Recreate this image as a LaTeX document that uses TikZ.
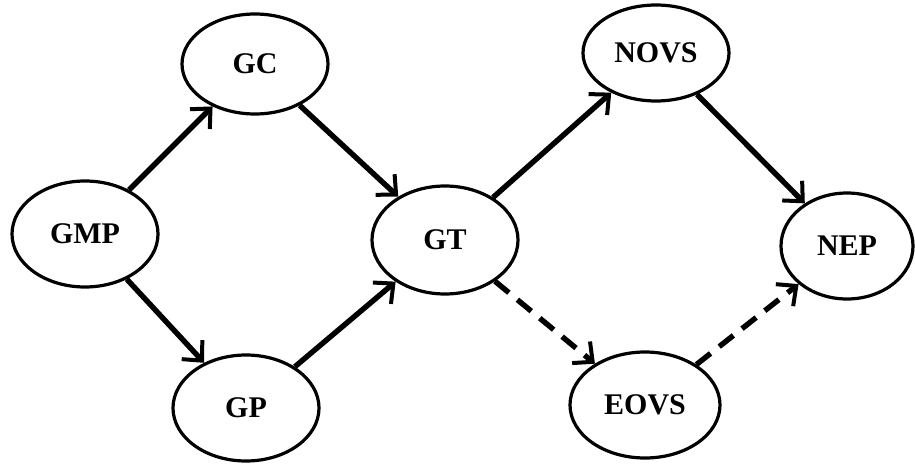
\documentclass[tikz,border=0pt]{standalone}
\usepackage{fontspec}
\setmainfont{Liberation Serif}
\usetikzlibrary{shapes.geometric,arrows.meta}

\tikzset{
	ell/.style={ellipse, draw, line width=3.2pt, minimum width=146pt, minimum height=106pt, inner sep=0pt, font=\fontsize{30}{34}\selectfont\bfseries},
	link/.style={line width=5.4pt, -{Straight Barb[length=15pt,width=28pt,line width=4pt]}},
	dlink/.style={link, dash pattern=on 18pt off 11pt}
}

\begin{document}
\begin{tikzpicture}[x=1pt, y=-1pt]
	\useasboundingbox (0,0) rectangle (915,468);
	\node[ell] (GMP) at (85,234) {GMP};
	\node[ell, minimum height=100pt] (GC) at (255,64) {GC};
	\node[ell] (GP) at (246,408) {GP};
	\node[ell, minimum height=108pt] (GT) at (445,240) {GT};
	\node[ell, minimum height=96pt] (NOVS) at (656,53) {NOVS};
	\node[ell, minimum width=132pt] (NEP) at (847,246) {NEP};
	\node[ell, minimum width=150pt] (EOVS) at (645,405) {EOVS};
	\draw[link] (GMP) -- (GC);
	\draw[link] (GMP) -- (GP);
	\draw[link] (GC) -- (GT);
	\draw[link] (GP) -- (GT);
	\draw[link] (GT) -- (NOVS);
	\draw[link] (NOVS) -- (NEP);
	\draw[dlink] (GT) -- (EOVS);
	\draw[dlink] (EOVS) -- (NEP);
\end{tikzpicture}
\end{document}
